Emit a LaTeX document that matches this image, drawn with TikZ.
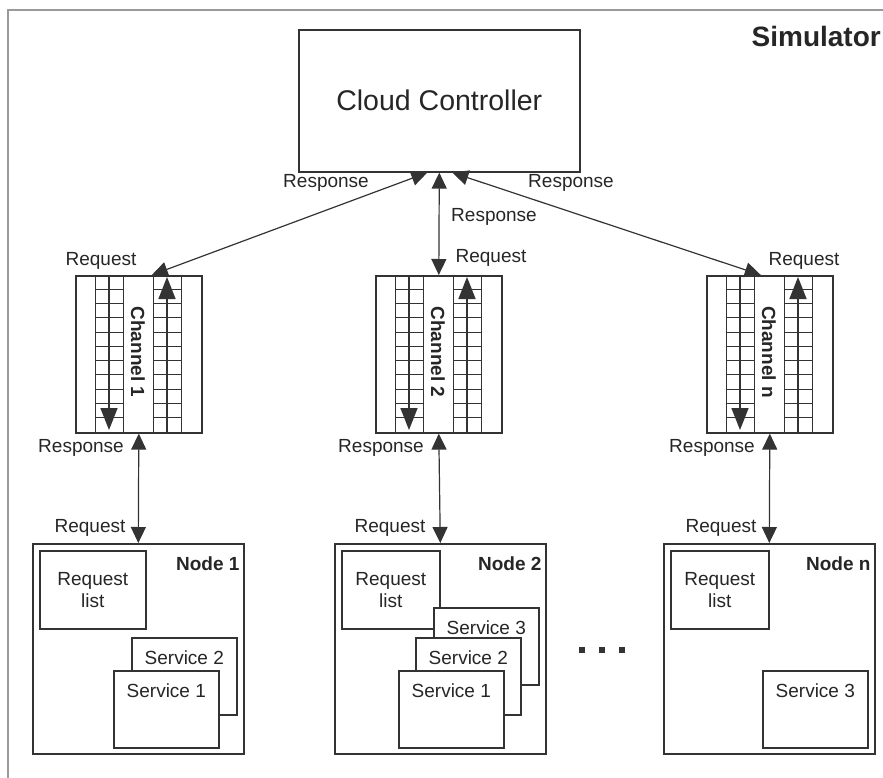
\documentclass[tikz,border=0pt]{standalone}
\usepackage{fontspec}
\setmainfont{Liberation Sans}
\usetikzlibrary{positioning,arrows.meta}
\definecolor{LineGray}{HTML}{333333}
\definecolor{FrameGray}{HTML}{9A9A9A}
\definecolor{TextGray}{HTML}{262626}
\newcommand{\lblfont}{\fontsize{19}{22}\selectfont}
\newcommand{\bigfont}{\fontsize{28.5}{32}\selectfont}

\begin{document}
\begin{tikzpicture}[x=1pt, y=-1pt,
  every node/.style={font=\lblfont, text=TextGray},
  box/.style={draw=LineGray, line width=1.6pt, fill=white, inner sep=0pt},
  svc/.style={box, minimum width=105pt, minimum height=77pt, anchor=north west},
  grid/.style={draw=LineGray, line width=0.8pt},
  flow/.style={draw=LineGray, line width=1.2pt},
  queue/.style={draw=LineGray, line width=1.6pt, -{Triangle[length=22pt,width=17pt]}},
  >={Triangle[length=16pt,width=15pt]}]
\useasboundingbox (0,0) rectangle (883,778);

% Frame
\draw[FrameGray, line width=1.5pt] (8,800) -- (8,10) -- (900,10);
\node[font=\fontsize{28}{32}\selectfont\bfseries, anchor=east, inner sep=1pt] (sim) at (882,36) {Simulator};

% Cloud controller
\node[box, minimum width=281pt, minimum height=142pt, anchor=north west, font=\bigfont] (cc) at (298,29) {Cloud Controller};

% Channels
\foreach \cx/\lab/\nm in {75/1/ch1, 375/2/ch2, 706/n/chn} {
  \node[box, minimum width=126pt, minimum height=157pt, anchor=north west] (\nm) at (\cx,275) {};
  \foreach \gx in {20,78} {
    \draw[grid] (\cx+\gx,275) rectangle (\cx+\gx+28,432);
    \foreach \r in {1,...,10}
      \draw[grid] (\cx+\gx,275+\r*14.27) -- (\cx+\gx+28,275+\r*14.27);
  }
  \draw[queue] (\cx+34,275) -- (\cx+34,430);
  \draw[queue] (\cx+92,432) -- (\cx+92,277);
  \node[rotate=-90, font=\lblfont\bfseries] (\nm lab) at (\cx+63,352) {Channel \lab};
  \node (\nm rsp) at (\cx+6,448) {Response};
  \node (\nm req) at (\cx+15,528) {Request};
}

% Nodes
\foreach \nx/\lab/\nm/\rw in {32/1/nd1/106, 334/2/nd2/98, 663/n/ndn/98} {
  \node[box, minimum width=211pt, minimum height=210pt, anchor=north west] (\nm) at (\nx,543) {};
  \node[font=\lblfont\bfseries, anchor=north east] (\nm lab) at (\nx+211,553) {Node \lab};
  \node[box, minimum width=\rw pt, minimum height=78pt, anchor=north west, align=center] (\nm list) at (\nx+7,550) {Request\\list};
}

% Services
\node[svc] (nd1s2) at (131,637) {};
\node[below=10pt of nd1s2.north] (nd1s2t) {Service 2};
\node[svc] (nd1s1) at (113,670) {};
\node[below=10pt of nd1s1.north] (nd1s1t) {Service 1};

\node[svc] (nd2s3) at (433,607) {};
\node[below=10pt of nd2s3.north] (nd2s3t) {Service 3};
\node[svc] (nd2s2) at (415,637) {};
\node[below=10pt of nd2s2.north] (nd2s2t) {Service 2};
\node[svc] (nd2s1) at (398,670) {};
\node[below=10pt of nd2s1.north] (nd2s1t) {Service 1};

\node[svc] (ndns3) at (762,670) {};
\node[below=10pt of ndns3.north] (ndns3t) {Service 3};

% Dots
\foreach \dx in {582,602,622}
  \fill[LineGray] (\dx-3,647) rectangle ++(6,6);

% Links to the controller
\draw[flow, <->] ([xshift=-12pt]cc.south) -- ([xshift=13pt]ch1.north);
\draw[flow, <->] (cc.south) -- (ch2.north);
\draw[flow, <->] ([xshift=13pt]cc.south) -- ([xshift=-9pt]chn.north);
\node (rspl) at (326,183) {Response};
\node (rspm) at (494,217) {Response};
\node (rspr) at (571,183) {Response};
\node (reql) at (101,261) {Request};
\node (reqm) at (491,258) {Request};
\node (reqr) at (804,261) {Request};

% Links to the nodes
\draw[flow, <->] (ch1.south) -- (nd1.north);
\draw[flow, <->] (ch2.south) -- (nd2.north);
\draw[flow, <->] (chn.south) -- (ndn.north);
\end{tikzpicture}
\end{document}
